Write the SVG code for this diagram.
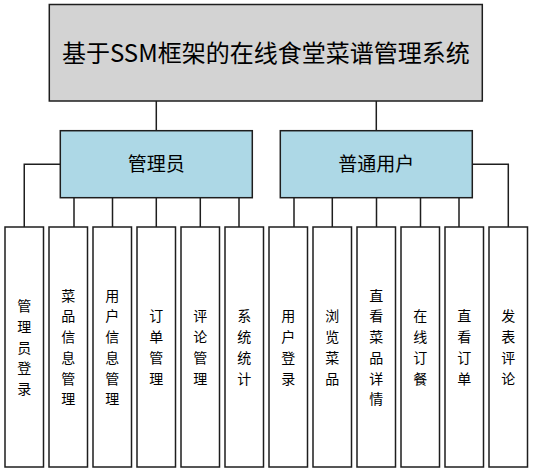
<svg xmlns="http://www.w3.org/2000/svg" width="533" height="473" viewBox="0 0 533 473">
<style>
.box{stroke:#1e1e1e;stroke-width:1.5}
.leaf{fill:#ffffff}
.t{font-family:"Noto Sans CJK SC","Noto Sans",sans-serif;fill:#000;text-anchor:middle;dominant-baseline:central}
.lt{font-size:14px}
.c{fill:none;stroke:#1e1e1e;stroke-width:1.5}
</style>
<rect width="533" height="473" fill="#ffffff"/>
<g id="connectors">
<path class="c" d="M156.3 101V130.7M376.3 101V130.7"/>
<path class="c" d="M24.25 227V164.3H60.3"/>
<path class="c" d="M74 197.7V227M112.5 197.7V227M156.3 197.7V227M200.3 197.7V227M239 197.7V227"/>
<path class="c" d="M294 197.7V227M332.3 197.7V227M376.5 197.7V227M420.5 197.7V227M459 197.7V227"/>
<path class="c" d="M472.3 164.3H508.3V227"/>
</g>
<g id="root">
<rect class="box" x="49.3" y="4.5" width="433" height="96.5" fill="#d3d3d3"/>
<text class="t" x="265.8" y="51.5" font-size="24">基于SSM框架的在线食堂菜谱管理系统</text>
</g>
<g id="admin">
<rect class="box" x="60.3" y="130.7" width="192" height="67" fill="#add8e6"/>
<text class="t" x="156.3" y="162.5" font-size="19">管理员</text>
</g>
<g id="user">
<rect class="box" x="280.3" y="130.7" width="192" height="67" fill="#add8e6"/>
<text class="t" x="376.3" y="162.5" font-size="19">普通用户</text>
</g>
<g id="leaf1"><rect class="box leaf" x="5" y="227" width="38.5" height="240"/>
<text class="t lt"><tspan x="24.25" y="305">管</tspan><tspan x="24.25" y="325.75">理</tspan><tspan x="24.25" y="346.5">员</tspan><tspan x="24.25" y="367.25">登</tspan><tspan x="24.25" y="388">录</tspan></text></g>
<g id="leaf2"><rect class="box leaf" x="49" y="227" width="38.5" height="240"/>
<text class="t lt"><tspan x="68.25" y="294.6">菜</tspan><tspan x="68.25" y="315.4">品</tspan><tspan x="68.25" y="336.1">信</tspan><tspan x="68.25" y="356.9">息</tspan><tspan x="68.25" y="377.6">管</tspan><tspan x="68.25" y="398.4">理</tspan></text></g>
<g id="leaf3"><rect class="box leaf" x="93" y="227" width="38.5" height="240"/>
<text class="t lt"><tspan x="112.25" y="294.6">用</tspan><tspan x="112.25" y="315.4">户</tspan><tspan x="112.25" y="336.1">信</tspan><tspan x="112.25" y="356.9">息</tspan><tspan x="112.25" y="377.6">管</tspan><tspan x="112.25" y="398.4">理</tspan></text></g>
<g id="leaf4"><rect class="box leaf" x="137" y="227" width="38.5" height="240"/>
<text class="t lt"><tspan x="156.25" y="315.4">订</tspan><tspan x="156.25" y="336.1">单</tspan><tspan x="156.25" y="356.9">管</tspan><tspan x="156.25" y="377.6">理</tspan></text></g>
<g id="leaf5"><rect class="box leaf" x="181" y="227" width="38.5" height="240"/>
<text class="t lt"><tspan x="200.25" y="315.4">评</tspan><tspan x="200.25" y="336.1">论</tspan><tspan x="200.25" y="356.9">管</tspan><tspan x="200.25" y="377.6">理</tspan></text></g>
<g id="leaf6"><rect class="box leaf" x="225" y="227" width="38.5" height="240"/>
<text class="t lt"><tspan x="244.25" y="315.4">系</tspan><tspan x="244.25" y="336.1">统</tspan><tspan x="244.25" y="356.9">统</tspan><tspan x="244.25" y="377.6">计</tspan></text></g>
<g id="leaf7"><rect class="box leaf" x="269" y="227" width="38.5" height="240"/>
<text class="t lt"><tspan x="288.25" y="315.4">用</tspan><tspan x="288.25" y="336.1">户</tspan><tspan x="288.25" y="356.9">登</tspan><tspan x="288.25" y="377.6">录</tspan></text></g>
<g id="leaf8"><rect class="box leaf" x="313" y="227" width="38.5" height="240"/>
<text class="t lt"><tspan x="332.25" y="315.4">浏</tspan><tspan x="332.25" y="336.1">览</tspan><tspan x="332.25" y="356.9">菜</tspan><tspan x="332.25" y="377.6">品</tspan></text></g>
<g id="leaf9"><rect class="box leaf" x="357" y="227" width="38.5" height="240"/>
<text class="t lt"><tspan x="376.25" y="294.6">直</tspan><tspan x="376.25" y="315.4">看</tspan><tspan x="376.25" y="336.1">菜</tspan><tspan x="376.25" y="356.9">品</tspan><tspan x="376.25" y="377.6">详</tspan><tspan x="376.25" y="398.4">情</tspan></text></g>
<g id="leaf10"><rect class="box leaf" x="401" y="227" width="38.5" height="240"/>
<text class="t lt"><tspan x="420.25" y="315.4">在</tspan><tspan x="420.25" y="336.1">线</tspan><tspan x="420.25" y="356.9">订</tspan><tspan x="420.25" y="377.6">餐</tspan></text></g>
<g id="leaf11"><rect class="box leaf" x="445" y="227" width="38.5" height="240"/>
<text class="t lt"><tspan x="464.25" y="315.4">直</tspan><tspan x="464.25" y="336.1">看</tspan><tspan x="464.25" y="356.9">订</tspan><tspan x="464.25" y="377.6">单</tspan></text></g>
<g id="leaf12"><rect class="box leaf" x="489" y="227" width="38.5" height="240"/>
<text class="t lt"><tspan x="508.25" y="315.4">发</tspan><tspan x="508.25" y="336.1">表</tspan><tspan x="508.25" y="356.9">评</tspan><tspan x="508.25" y="377.6">论</tspan></text></g>
</svg>
